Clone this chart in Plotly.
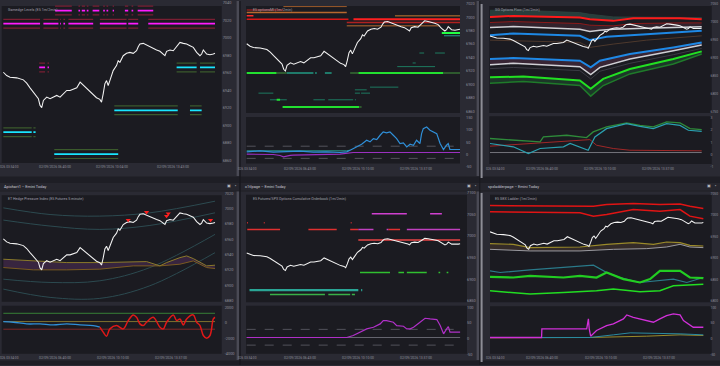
import plotly.graph_objects as go

# ======================= DATA =======================
# ES price (white line, drawn in every panel); time in minutes after midnight
es_t = [214, 226, 238, 262, 286, 298, 310, 322, 334, 340, 346, 352, 358, 370, 382, 394, 406, 418, 430, 442,
        454, 466, 478, 490, 502, 514, 526, 537, 549, 561, 567, 573, 579, 585, 591, 597, 603, 609, 621, 627,
        633, 639, 645, 657, 669, 681, 693, 699, 705, 717, 729, 741, 753, 765, 777, 789, 795, 801, 813, 825,
        837, 849, 861, 873, 885, 897, 909, 921, 927, 933, 945, 957, 969, 975]
es_px = [6960.5, 6956.7, 6954.8, 6954.1, 6951.8, 6948.0, 6942.7, 6937.8, 6932.1, 6930.2, 6922.6, 6920.0,
         6928.3, 6932.1, 6930.2, 6932.1, 6934.0, 6932.1, 6935.9, 6939.7, 6939.7, 6941.6, 6942.7, 6949.2,
         6945.4, 6941.6, 6937.8, 6934.0, 6931.4, 6929.5, 6926.4, 6935.9, 6947.3, 6951.0, 6945.4, 6951.0,
         6956.7, 6962.4, 6968.1, 6973.8, 6971.9, 6975.7, 6979.4, 6982.1, 6983.2, 6982.1, 6985.1, 6989.7,
         6992.7, 6993.5, 6991.6, 6988.9, 6987.0, 6985.9, 6984.4, 6981.3, 6979.4, 6984.4, 6985.9, 6985.1,
         6989.7, 6994.6, 6993.5, 6992.7, 6990.8, 6988.9, 6983.2, 6979.4, 6981.3, 6985.9, 6981.3, 6980.6,
         6981.3, 6982.1]

# x tick labels (time in minutes, text)
first_tick_txt = "026 03:34:00"
p1_tick_t = [400, 604, 823]
p1_tick_txt = ["02/09/2026 06:40:00", "02/09/2026 10:04:00", "02/09/2026 13:43:00"]
p2_tick_t = [403, 610, 817]
p2_tick_txt = ["02/09/2026 06:43:00", "02/09/2026 10:10:00", "02/09/2026 13:37:00"]
p3_tick_t = [400, 610, 817]
p3_tick_txt = ["02/09/2026 06:40:00", "02/09/2026 10:10:00", "02/09/2026 13:37:00"]
p4_tick_t = [400, 610, 817]
p4_tick_txt = ["02/09/2026 06:40:00", "02/09/2026 10:10:00", "02/09/2026 13:37:00"]
p5_tick_t = [403, 610, 817]
p5_tick_txt = ["02/09/2026 06:43:00", "02/09/2026 10:10:00", "02/09/2026 13:37:00"]
p6_tick_t = [400, 610, 817]
p6_tick_txt = ["02/09/2026 06:40:00", "02/09/2026 10:10:00", "02/09/2026 13:37:00"]

# y tick values
p1_yticks = [7040, 7020, 7000, 6980, 6960, 6940, 6920, 6900, 6880, 6860]
p2_yticks = [7020, 7000, 6980, 6960, 6940, 6920, 6900, 6880, 6860]
p2s_yticks = [150, 100, 50, 0, -50]
p3_yticks = [7050, 7000, 6950, 6900, 6850, 6800, 6750]
p3s_yticks = [3, 2, 1, 0, -1]
p4_yticks = [7020, 7000, 6980, 6960, 6940, 6920, 6900, 6880]
p4s_yticks = [2000, 0, -2000, -4000]
p5_yticks = [7100, 7050, 7000, 6950, 6900, 6850]
p5s_yticks = [100, 50, 0, -50]
p6_yticks = [7050, 7000, 6950, 6900, 6850, 6800]
p6s_yticks = [100, 50, 0, -50]

# titles
titles = ["Gamedge Levels (ES 1m/2min)", "ES optionsMI (1m/2min)", "GG Options Flow (1m/2min)",
          "ET Hedge Pressure Index (ES Futures 5 minute)",
          "ES Futures/SPX Options Cumulative Orderbook (1m/2min)", "ES GEX Ladder (1m/2min)"]
window_titles = ["Apichart1 \u2013 Emini Today", "c1tlpage \u2013 Emini Today", "spxladderpage \u2013 Emini Today"]

# ---- Panel 1: gamma levels (value, segments [start,end]), kind m=magenta/c=cyan
p1_lvl_val = [7031, 7016, 6966, 6966, 6917, 6892, 6867]
p1_lvl_kind = ["m", "m", "m", "c", "c", "c", "c"]
p1_lvl_segs = [
    [(400, 460), (484, 490), (496, 508), (514, 520), (535, 559), (573, 579), (585, 591), (607, 612),
     (651, 663), (675, 681), (697, 753)],
    [(214, 346), (358, 412), (418, 421), (430, 436), (448, 537), (561, 657), (663, 699), (735, 975)],
    [(343, 364), (373, 378)],
    [(837, 909), (921, 975)],
    [(613, 841), (885, 927)],
    [(214, 316), (322, 330)],
    [(397, 627)],
]
p1_band = 5

# ---- Panel 2: option-flow levels
p2_lvl_val = [7015.7, 7010.7, 7006.8, 7001.9, 7001.9, 6996.9, 6996.9, 6992.0, 6987.1, 6976.3, 6972.3,
              6946.7, 6931.9, 6926.5, 6917.1, 6917.1, 6917.1, 6896.0, 6892.0, 6887.1, 6877.2, 6877.2,
              6866.4, 6866.4]
p2_lvl_segs = [
    [(345, 571)], [(214, 345)], [(214, 571)], [(214, 238)], [(743, 975)], [(214, 577)], [(595, 975)],
    [(571, 975)], [(571, 904)], [(910, 975)], [(918, 975)], [(830, 847), (886, 921)], [(806, 817)],
    [(751, 886)], [(214, 321), (612, 916)], [(321, 357), (583, 612), (916, 975)],
    [(357, 452), (458, 464), (493, 517)], [(654, 755)], [(600, 642)], [(256, 309), (600, 618), (622, 654)],
    [(297, 357), (452, 493), (505, 594), (600, 604)], [(321, 333)], [(342, 615)], [(615, 624)],
]
p2_lvl_style = [("#9c5a2a", 1), ("#8b2020", 1.5), ("#b8682e", 1.5), ("#ff2a2a", 1.5), ("#c77a30", 1),
                ("#d81818", 1.5), ("#ff2020", 2.2), ("#b02020", 1.5), ("#b86a30", 1), ("#22ff44", 2),
                ("#2a9d8f", 1), ("#1d7a60", 1), ("#1d7a60", 1), ("#1d7a60", 1), ("#22e030", 2),
                ("#2e5a2e", 2), ("#1f7a6a", 2), ("#1d7a60", 1), ("#1d7a60", 1), ("#1d7a60", 1),
                ("#1d7a60", 1), ("#22e030", 2), ("#22e030", 2), ("#2e5a2e", 2)]
# panel 2 oscillator
p2_blue_t = [214, 262, 309, 357, 404, 452, 499, 547, 571, 583, 606, 624, 642, 654, 666, 678, 690, 701, 713,
             725, 737, 749, 761, 773, 785, 797, 809, 820, 832, 838, 844, 856, 868, 880, 892, 904, 916, 927,
             933, 939, 975]
p2_blue_v = [11, 15, 9.5, 11, 13.6, 9.5, 11, 8.2, 11, 17.7, 31.3, 42.2, 58.5, 51.7, 65.3, 61.2, 78.9, 92.5,
             88.4, 92.5, 78.9, 65.3, 44.9, 47.6, 31.3, 42.2, 38.1, 58.5, 44.9, 85.7, 106.1, 112.9, 99.3,
             92.5, 85.7, 44.9, 20.4, 38.1, 44.9, 20.4, 20.4]
p2_teal_t = [214, 400, 571, 583]
p2_teal_v = [15, 14, 15, 18]
p2_purple_t = [214, 309, 333, 345, 369, 380, 547, 571, 594, 975]
p2_purple_v = [1.4, 0, -4, -9.5, -4, -2.7, 1.4, 4.1, 8.2, 8.2]
p2_dash_levels = [34, -16]

# ---- Panel 3: options flow bands
p3_tealtop_t = [214, 298, 537, 573, 657, 975]
p3_tealtop_v = [7032, 7033, 7025.6, 7021, 7013.7, 7011.8]
p3_red_t = [214, 298, 537, 573, 657, 729, 897, 975]
p3_red_v = [7013.7, 7016.4, 7011.8, 7007.2, 7002.6, 7010.0, 7010.0, 7007.2]
p3_redthin_v = [6998, 7000.7, 6995.2, 6990.6, 6988.7, 6995.2, 6997, 6997]
p3_grayup_t = [214, 298, 537, 573, 609, 657, 777, 975]
p3_grayup_v = [6984.1, 6986.9, 6979.5, 6973.1, 6976.8, 6979.5, 6982.3, 6986]
p3_blueup_t = [214, 298, 537, 573, 591, 633, 777, 975]
p3_blueup_v = [6962.9, 6967.5, 6961.1, 6949.1, 6951.8, 6958.3, 6965.7, 6974.9]
p3_tan_t = [214, 537, 573, 657, 777, 975]
p3_tan_v = [6949, 6942.6, 6928.8, 6938, 6949, 6961]
p3_low_t = [214, 298, 537, 576, 609, 717, 873, 975]
p3_bluelow_v = [6896.5, 6899.3, 6891.9, 6873.4, 6891.9, 6910.3, 6928.8, 6942.6]
p3_graylow_v = [6880.8, 6884.5, 6875.3, 6853.1, 6873.4, 6896.5, 6919.6, 6935.2]
p3_thinlow_v = [6869.7, 6873, 6864.2, 6841.1, 6862.4, 6884.5, 6908.5, 6926]
p3_green_t = [214, 334, 537, 576, 621, 717, 873, 975]
p3_green_v = [6845.8, 6847.6, 6836.5, 6813.5, 6841.1, 6868.8, 6896.5, 6917.7]
p3_dkgreen_v = [6829.2, 6833.8, 6822.7, 6793.2, 6822.7, 6855, 6882.7, 6910.3]
# panel 3 sub
p3s_green_t = [214, 394, 406, 490, 561, 585, 633, 705, 753, 801, 849, 897, 933, 975]
p3s_green_v = [1.31, 1.03, 1.44, 1.58, 1.39, 1.85, 2.26, 2.59, 2.39, 2.26, 2.67, 2.59, 2.12, 2.04]
p3s_teal_t = [214, 298, 352, 394, 478, 502, 567, 591, 633, 705, 753, 801, 849, 897, 927, 975]
p3s_teal_v = [0.9, 0.63, 0.08, 0.49, 0.63, 0.9, 0.35, 1.44, 2.12, 2.53, 2.31, 2.12, 2.53, 2.39, 1.99, 1.9]
p3s_red_t = [214, 358, 478, 573, 597, 657, 717, 975]
p3s_red_v = [0.68, 0.9, 1.03, 1.22, 0.76, 0.49, 0.35, 0.3]
p3s_base = 0.16

# ---- Panel 4: hedge pressure
p4_ch_t = [214, 382, 561, 741, 975]
p4_ch = [[7001.2, 6992.5, 6990.4, 6994.7, 7009.9],
         [6985.2, 6977.4, 6973.0, 6978.2, 6994.7],
         [6907.9, 6903.6, 6905.8, 6923.1, 6966.5],
         [6894.9, 6884.1, 6882.8, 6899.3, 6942.6]]
p4_cup_t = [214, 322, 442, 561, 681, 729, 777, 801, 849, 873, 897, 921, 945, 975]
p4_cup_v = [6934, 6931.8, 6929.6, 6929.6, 6930.5, 6930.9, 6925.3, 6929.6, 6936.1, 6938.3, 6934.8, 6929.6,
            6925.3, 6926.2]
p4_clo_t = [214, 322, 442, 561, 681, 741, 777, 849, 897, 921, 945, 975]
p4_clo_v = [6923.1, 6920.1, 6920.1, 6921, 6925.3, 6925.3, 6925.3, 6927.5, 6931.8, 6927.5, 6923.1, 6921.8]
p4_sig_t = [663, 729, 801, 807, 959]
p4_sig_v = [6985.2, 6995.6, 6990.4, 6993.8, 6985.2]
p4s_levels = [1234, 170, -808]
p4s_blue_t = [214, 250, 298, 346, 394, 442, 490, 537, 561]
p4s_blue_v = [170, 85, -128, -128, -255, -128, -255, -340, -553]
p4s_red_t = [561, 573, 585, 597, 621, 645, 663, 681, 693, 705, 717, 729, 753, 777, 789, 801, 825, 837, 849,
             861, 873, 897, 909, 921, 933, 945, 957, 969, 975]
p4s_red_v = [-553, -1191, -1702, -766, -340, -766, 298, 1021, 723, -128, -340, 85, 723, -553, -766, 85, 1021,
             298, 511, -255, 511, 1021, 85, -340, -1617, -1957, -1617, 511, 723]

# ---- Panel 5: cumulative orderbook levels
p5_lvl_val = [7051.5, 7015.4, 7015.4, 7030.7, 6990.8, 6915.4, 6874.6, 6864.6]
p5_lvl_segs = [
    [(660, 785), (868, 910)],
    [(216, 333), (434, 535), (583, 612), (719, 761)],
    [(612, 666), (713, 719), (785, 975)],
    [(215, 218), (275, 278), (585, 588)],
    [(612, 975)],
    [(618, 725), (755, 775), (785, 856), (898, 904), (927, 933)],
    [(224, 612), (622, 626)],
    [(297, 493), (505, 583), (589, 600)],
]
p5_lvl_style = [("#d040d0", 1.5), ("#e03030", 1.5), ("#c040c0", 1.5), ("#e03030", 1.5), ("#e84545", 1.5),
                ("#30c030", 1.5), ("#2aa595", 2.2), ("#38b048", 1.5)]
p5s_t = [214, 571, 594, 618, 642, 666, 690, 701, 713, 737, 749, 773, 785, 797, 809, 832, 850, 868, 892, 904,
         916, 927, 933, 939, 975]
p5s_v = [4.2, 4.2, 10.5, 21.1, 31.6, 36.8, 47.4, 57.9, 57.9, 52.6, 42.1, 40, 31.6, 31.6, 36.8, 52.6, 65.3,
         63.2, 61.1, 42.1, 15.8, 31.6, 38.9, 21.1, 21.1]
p5s_dash_levels = [30, -20]
p5s_base = 4.2

# ---- Panel 6: GEX ladder
p6_redtop_t = [214, 583, 630, 725, 820, 892, 927, 975]
p6_redtop_v = [7021.8, 7020.2, 7024.1, 7026.4, 7024.1, 7025.6, 7020.2, 7014.8]
p6_redlow_t = [214, 535, 583, 630, 725, 820, 892, 927, 975]
p6_redlow_v = [7007.1, 7004.8, 6997.1, 7000.9, 7012.5, 7008.6, 7012.5, 6997.1, 6990.9]
p6_olive_t = [214, 297, 357, 535, 630, 725, 797, 844, 892, 927, 975]
p6_olive_v = [6933, 6931.5, 6923.8, 6925.3, 6931.5, 6935.3, 6931.5, 6936.9, 6935.3, 6929.2, 6927.6]
p6_gray_t = [214, 357, 535, 654, 773, 844, 892, 927, 975]
p6_gray_v = [6919.9, 6916.1, 6916.1, 6919.9, 6921.5, 6925.3, 6931.5, 6925.3, 6923.8]
p6_teal_t = [214, 250, 357, 476, 583, 630, 678, 749, 809, 868, 916, 975]
p6_teal_v = [6869.8, 6865.9, 6872.1, 6877.5, 6882.9, 6865.9, 6854.3, 6842.7, 6846.6, 6850.5, 6842.7, 6854.3]
p6_green_t = [214, 297, 357, 476, 535, 594, 630, 690, 749, 785, 820, 892, 927, 975]
p6_green_v = [6855.9, 6854.3, 6858.2, 6854.3, 6858.2, 6854.3, 6865.9, 6850.5, 6842.7, 6850.5, 6869.8,
              6869.8, 6854.3, 6852.8]
p6_glow_t = [214, 357, 476, 594, 654, 749, 820, 868, 975]
p6_glow_v = [6823.5, 6815.7, 6819.6, 6823.5, 6827.3, 6821.1, 6823.5, 6835, 6838.9]
p6s_mag_t = [214, 398, 399, 559, 565, 568, 573, 583, 594, 630, 654, 690, 702, 725, 749, 773, 797, 820, 844,
             868, 892, 904, 927, 939, 975]
p6s_mag_v = [4.2, 4.2, 31.6, 31.6, 63.2, 31.6, 8.4, 15.8, 26.3, 42.1, 47.4, 63.2, 75.8, 68.4, 63.2, 57.9,
             52.6, 63.2, 73.7, 78.9, 75.8, 57.9, 42.1, 36.8, 36.8]
p6s_teal_t = [214, 571, 654, 714, 892, 975]
p6s_teal_v = [4.2, 4.2, 12.6, 18.9, 15.8, 12.6]
p6s_olive_t = [214, 571, 773, 892, 975]
p6s_olive_v = [3.2, 4.2, 8.4, 12.6, 10.5]

# ======================= STYLE / LAYOUT =======================
W, H = 720, 366
PAPER = "#2a2a33"
PLOT = "#1b1b21"
TICKC = "#8e8e9a"
FONT = "Roboto"
PRICE = "#f2f2f2"

def P(x):
    return x / W

def Q(y):
    return 1 - y / H

def ref(n, a):
    return a if n == 1 else f"{a}{n}"

# axis geometry (pixels): x-domain, y-domain, x-range, y-range, y ticks, label standoff, label size, plot bg box
AX = {
    1: dict(xd=(1.7, 221.7), yd=(0, 166), xr=(208.1, 999.1), yr=(6853.3, 7041.9), yt=p1_yticks, so=0, fs=3.9, bg=(5, 163)),
    2: dict(xd=(246, 460), yd=(0, 113), xr=(211.5, 975), yr=(6857, 7024), yt=p2_yticks, so=5, fs=3.9, bg=(5, 112.7)),
    3: dict(xd=(246, 460), yd=(115, 168), xr=(211.5, 975), yr=(-55.8, 160.5), yt=p2s_yticks, so=5, fs=3.9, bg=(116.7, 163.3)),
    4: dict(xd=(489.3, 709.5), yd=(0, 113), xr=(211.5, 1003), yr=(6745.2, 7057.9), yt=p3_yticks, so=0, fs=3.4, bg=(489.3, 711.7, 5, 112.7)),
    5: dict(xd=(489.3, 709.5), yd=(115, 168), xr=(211.5, 1003), yr=(-1.116, 3.21), yt=p3s_yticks, so=0, fs=3.4, bg=(489.3, 711.7, 116, 164)),
    6: dict(xd=(1.7, 221.7), yd=(191, 303), xr=(208.1, 999.1), yr=(6877.6, 7023.3), yt=p4_yticks, so=2, fs=3.9, bg=(195.3, 302.3)),
    7: dict(xd=(1.7, 221.7), yd=(305, 357), xr=(208.1, 999.1), yr=(-4255, 2383), yt=p4s_yticks, so=2, fs=3.9, bg=(306.3, 354.7)),
    8: dict(xd=(246, 466), yd=(191, 303), xr=(211.5, 996), yr=(6846.2, 7104.6), yt=p5_yticks, so=0, fs=3.9, bg=(246, 467, 194.7, 303)),
    9: dict(xd=(246, 466), yd=(305, 357), xr=(211.5, 996), yr=(-54.7, 109.5), yt=p5s_yticks, so=0, fs=3.9, bg=(246, 467, 306.3, 354.7)),
    10: dict(xd=(490, 709.5), yd=(191, 303), xr=(214, 997), yr=(6796.5, 7055.7), yt=p6_yticks, so=0, fs=3.4, bg=(490, 711.7, 194.7, 303)),
    11: dict(xd=(490, 709.5), yd=(305, 357), xr=(214, 997), yr=(-54.7, 109.5), yt=p6s_yticks, so=0, fs=3.4, bg=(490, 711.7, 307, 354.7)),
}

layout = dict(width=W, height=H, margin=dict(l=0, r=0, t=0, b=0, pad=0), paper_bgcolor=PAPER,
              plot_bgcolor="rgba(0,0,0,0)", showlegend=False, font=dict(family=FONT, size=4, color=TICKC),
              shapes=[], annotations=[], hovermode=False)

def rect(x0, x1, y0, y1, color, layer="below"):
    layout["shapes"].append(dict(type="rect", xref="paper", yref="paper", x0=P(x0), x1=P(x1), y0=Q(y1), y1=Q(y0),
                                 fillcolor=color, line=dict(width=0), layer=layer))

def text(x, y, s, size, color, xanchor="left", xref="paper"):
    layout["annotations"].append(dict(x=x if xref != "paper" else P(x), y=Q(y), xref=xref, yref="paper", text=s,
                                      showarrow=False, xanchor=xanchor, yanchor="middle",
                                      font=dict(size=size, color=color, family=FONT)))

# frame decorations
rect(0, 720, 176.5, 183, "#1e1e25")
rect(0, 720, 183, 190.5, "#26262e")
rect(0, 720, 190.5, 191.5, "#1e1e25")
rect(0, 720, 361.5, 366, "#1e1e25")
rect(236.6, 239.3, 0, 176, "#4a4a55")
rect(236.6, 239.3, 191.5, 361, "#4a4a55")
rect(476.6, 479.3, 0, 176, "#4a4a55")
rect(476.6, 479.3, 191.5, 361, "#4a4a55")
rect(239.3, 240.7, 0, 366, "#18181d")
rect(479.3, 480.3, 0, 366, "#18181d")
rect(480.6, 482.6, 3, 178, "#8d8d96")
rect(480.6, 482.6, 193, 363, "#8d8d96")

for n, a in AX.items():
    xk = "xaxis" if n == 1 else f"xaxis{n}"
    yk = "yaxis" if n == 1 else f"yaxis{n}"
    layout[xk] = dict(domain=[P(a["xd"][0]), P(a["xd"][1])], range=list(a["xr"]), anchor=ref(n, "y"),
                      showgrid=False, zeroline=False, showline=False, showticklabels=False, ticks="")
    layout[yk] = dict(domain=[Q(a["yd"][1]), Q(a["yd"][0])], range=list(a["yr"]), anchor=ref(n, "x"),
                      side="right", showgrid=False, zeroline=False, showline=False, ticks="", ticklen=0,
                      tickvals=a["yt"], ticktext=[str(v) for v in a["yt"]],
                      tickfont=dict(size=a["fs"], color=TICKC, family=FONT), ticklabelstandoff=int(a["so"]))
    b = a["bg"]
    if len(b) == 2:
        rect(a["xd"][0], a["xd"][1], b[0], b[1], PLOT)
    else:
        rect(b[0], b[1], b[2], b[3], PLOT)

fig = go.Figure()

def add_line(n, x, y, color, width=1.0, dash=None, fill=None, fillcolor=None, shape="linear"):
    fig.add_trace(go.Scatter(x=x, y=y, mode="lines",
                             line=dict(color=color, width=width, dash=dash, shape=shape),
                             fill=fill, fillcolor=fillcolor, xaxis=ref(n, "x"), yaxis=ref(n, "y"),
                             hoverinfo="skip", showlegend=False, cliponaxis=True))

def add_segments(n, value, segs, color, width):
    xs, ys = [], []
    for a, b in segs:
        xs += [a, b, None]
        ys += [value, value, None]
    add_line(n, xs, ys, color, width)

def add_hline(n, value, color, width=0.8, dash=None):
    add_line(n, [es_t[0], es_t[-1]], [value, value], color, width, dash)

# ---------------- Panel 1 ----------------
for v, segs, k in zip(p1_lvl_val, p1_lvl_segs, p1_lvl_kind):
    band_c = "#7a1f33" if k == "m" else "#3b5a2c"
    main_c = "#ff1aff" if k == "m" else "#19e6ff"
    add_segments(1, v + p1_band, segs, band_c, 1.2)
    add_segments(1, v - p1_band, segs, band_c, 1.2)
    add_segments(1, v, segs, main_c, 1.7)
add_line(1, es_t, es_px, PRICE, 1.05)

# ---------------- Panel 2 ----------------
for v, segs, (c, w) in zip(p2_lvl_val, p2_lvl_segs, p2_lvl_style):
    add_segments(2, v, segs, c, w)
add_line(2, es_t, es_px, PRICE, 1.05)
for lv in p2_dash_levels:
    add_hline(3, lv, "#6a6a74", 0.7, "dash")
add_line(3, p2_purple_t, p2_purple_v, "#9b30c0", 1.2)
add_line(3, p2_teal_t, p2_teal_v, "#2a9d8f", 1)
add_line(3, p2_blue_t, p2_blue_v, "#2f8fd8", 1.2)

# ---------------- Panel 3 ----------------
add_line(4, p3_tealtop_t, p3_tealtop_v, "#2e4440", 0.8)
add_line(4, p3_red_t, p3_red_v, "#ff1a1a", 2, fill="tonexty", fillcolor="rgba(45,75,70,0.75)")
add_line(4, p3_red_t, p3_redthin_v, "#8b1a1a", 1)
add_line(4, p3_grayup_t, p3_grayup_v, "#cfcfd4", 1.5, fill="tonexty", fillcolor="rgba(70,40,55,0.55)")
add_line(4, p3_blueup_t, p3_blueup_v, "#1e88e5", 2)
add_line(4, p3_tan_t, p3_tan_v, "#5a4030", 0.8)
add_line(4, p3_low_t, p3_bluelow_v, "#1e88e5", 2)
add_line(4, p3_low_t, p3_graylow_v, "#cfcfd4", 1.5, fill="tonexty", fillcolor="rgba(80,45,70,0.55)")
add_line(4, p3_low_t, p3_thinlow_v, "#44444e", 0.8)
add_line(4, p3_green_t, p3_green_v, "#22e022", 2)
add_line(4, p3_green_t, p3_dkgreen_v, "#1f7a2a", 1.5, fill="tonexty", fillcolor="rgba(30,75,45,0.6)")
add_line(4, es_t, es_px, PRICE, 1.05)
add_hline(5, p3s_base, "#8a8a92", 0.8)
add_line(5, p3s_red_t, p3s_red_v, "#a02828", 1)
add_line(5, p3s_green_t, p3s_green_v, "#2e8a3a", 1.3)
add_line(5, p3s_teal_t, p3s_teal_v, "#2aa0b0", 1.2)

# ---------------- Panel 4 ----------------
for ch in p4_ch:
    add_line(6, p4_ch_t, ch, "#2c4a50", 1, shape="spline")
add_line(6, p4_clo_t, p4_clo_v, "#7a5a20", 1)
add_line(6, p4_cup_t, p4_cup_v, "#8a7a2a", 1, fill="tonexty", fillcolor="rgba(80,45,90,0.55)")
add_line(6, es_t, es_px, PRICE, 1.05)
fig.add_trace(go.Scatter(x=p4_sig_t, y=p4_sig_v, mode="markers", xaxis="x6", yaxis="y6", hoverinfo="skip",
                         marker=dict(symbol="triangle-down", size=4.5, color="#ff2020"), showlegend=False))
for lv, c in zip(p4s_levels, ["#3a8a3a", "#8a7a30", "#8a2a2a"]):
    add_hline(7, lv, c, 0.9)
add_line(7, p4s_blue_t, p4s_blue_v, "#2f8fd8", 1.3, shape="spline")
add_line(7, p4s_red_t, p4s_red_v, "#e01818", 1.5, shape="spline")

# ---------------- Panel 5 ----------------
for v, segs, (c, w) in zip(p5_lvl_val, p5_lvl_segs, p5_lvl_style):
    add_segments(8, v, segs, c, w)
add_line(8, es_t, es_px, PRICE, 1.05)
for lv in p5s_dash_levels:
    add_hline(9, lv, "#6a6a74", 0.7, "dash")
add_hline(9, p5s_base, "#7a7a84", 0.8)
add_line(9, p5s_t, p5s_v, "#b030c8", 1.2)

# ---------------- Panel 6 ----------------
add_line(10, p6_redtop_t, p6_redtop_v, "#e01414", 1.5)
add_line(10, p6_redlow_t, p6_redlow_v, "#e01414", 1.5)
add_line(10, p6_gray_t, p6_gray_v, "#9a9aa0", 1)
add_line(10, p6_olive_t, p6_olive_v, "#9a8a2a", 1.2, fill="tonexty", fillcolor="rgba(70,55,45,0.6)")
add_line(10, p6_teal_t, p6_teal_v, "#2a7a8a", 1.2)
add_line(10, p6_glow_t, p6_glow_v, "#22dd22", 1.5)
add_line(10, p6_green_t, p6_green_v, "#22cc22", 2.2)
add_line(10, es_t, es_px, PRICE, 1.05)
add_line(11, p6s_olive_t, p6s_olive_v, "#9a8a2a", 1)
add_line(11, p6s_teal_t, p6s_teal_v, "#2a8aa0", 1)
add_line(11, p6s_mag_t, p6s_mag_v, "#d030d8", 1.3)

# ---------------- text ----------------
TITLEC = "#a0a0ac"
title_pos = [(6, 9.5), (251, 9.5), (493, 9.5), (6, 199), (251, 199), (493, 199)]
for s, (x, y) in zip(titles, title_pos):
    text(x, y, s, 3.6, TITLEC)
for s, x in zip(window_titles, [2, 243, 486]):
    text(x, 186.8, s, 3.9, "#c8c8d2")
for x in [228.5, 468.5, 708.5]:
    text(x, 186.3, "\u25a3", 3.5, "#b8b8c0", xanchor="center")
    text(x + 6.5, 186.3, "\u25aa", 3.5, "#b8b8c0", xanchor="center")

xl = [(1, p1_tick_t, p1_tick_txt, 166.7, 21), (3, p2_tick_t, p2_tick_txt, 169, 259),
      (5, p3_tick_t, p3_tick_txt, 169, 507), (7, p4_tick_t, p4_tick_txt, 358.5, 21),
      (9, p5_tick_t, p5_tick_txt, 358.5, 259), (11, p6_tick_t, p6_tick_txt, 358.5, 507)]
for n, tv, tt, y, fx in xl:
    for t, s in zip(tv, tt):
        text(t, y, s, 3.4, TICKC, xanchor="center", xref=ref(n, "x"))
    text(fx, y, first_tick_txt, 3.2, TICKC, xanchor="right")

fig.update_layout(**layout)
fig.write_html("out.html", config={"displayModeBar": False, "staticPlot": True},
               post_script="document.body.style.margin='0';document.body.style.padding='0';"
                           "document.body.style.overflow='hidden';")
